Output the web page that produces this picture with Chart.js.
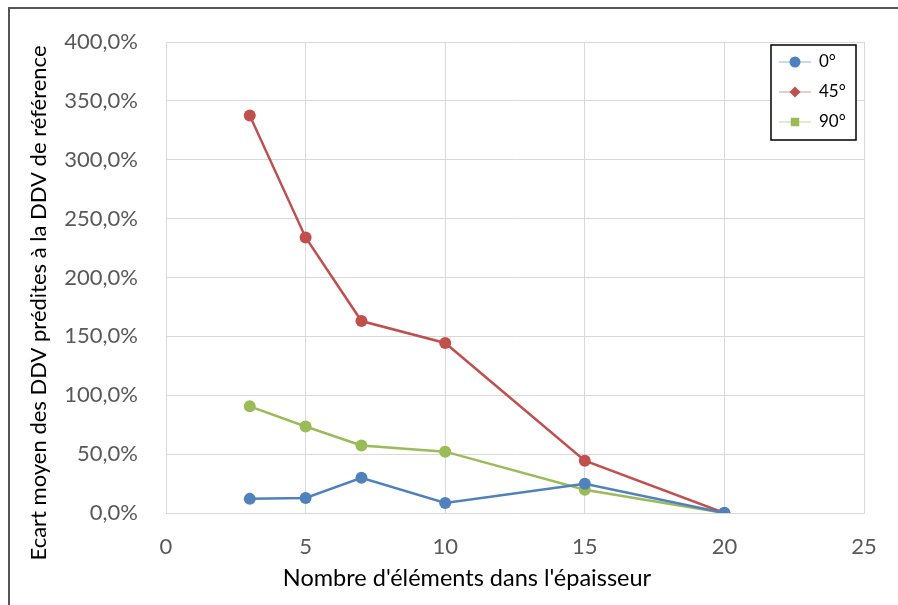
<!DOCTYPE html>
<html>
<head>
<meta charset="utf-8">
<script src="https://cdn.jsdelivr.net/npm/chart.js@4"></script>
<style>
  html, body { margin: 0; padding: 0; background: #fff; }
  #wrap { position: relative; width: 898px; height: 605px; }
  #frame { position: absolute; left: 8px; top: 7px; width: 900px; height: 610px;
           border-left: 2px solid #555; border-top: 2px solid #555; pointer-events: none; }
</style>
</head>
<body>
<div id="wrap">
  <canvas id="chart" width="898" height="605"></canvas>
  <div id="frame"></div>
</div>
<script>
// nombre d'éléments dans l'épaisseur
const elements = [3, 5, 7, 10, 15, 20];
// écart moyen (%)
const ecart0 = [12.0, 12.8, 29.9, 8.5, 24.8, 0];
const ecart45 = [337.6, 234.0, 163.0, 144.4, 44.4, 0];
const ecart90 = [90.6, 73.5, 57.3, 52.1, 19.7, 0];
const seriesNames = ["0°", "45°", "90°"];
const seriesColors = ["#4F81BD", "#C0504D", "#9BBB59"];
const legendMarkers = ["circle", "rectRot", "rect"];
const xTitle = "Nombre d'éléments dans l'épaisseur";
const yTitle = "Ecart moyen des DDV prédites à la DDV de référence";

const toPoints = (vals) => vals.map((v, i) => ({ x: elements[i], y: v }));

const font = "Lato";

// axis titles sit off-centre in the original, so draw them by hand
const axisTitles = {
  id: "axisTitles",
  afterDraw(chart) {
    const ctx = chart.ctx;
    ctx.save();
    ctx.fillStyle = "#000";
    ctx.textAlign = "center";
    ctx.textBaseline = "middle";
    ctx.font = "23.5px " + font;
    ctx.fillText(xTitle, 467, 578);
    ctx.translate(39, 303);
    ctx.rotate(-Math.PI / 2);
    ctx.font = "22px " + font;
    ctx.fillText(yTitle, 0, 0);
    ctx.restore();
  }
};

// legend box drawn like the spreadsheet one (line + marker)
const boxLegend = {
  id: "boxLegend",
  afterDraw(chart) {
    const ctx = chart.ctx;
    const x0 = 771, y0 = 45, w = 85, h = 95;
    ctx.save();
    ctx.fillStyle = "#fff";
    ctx.fillRect(x0, y0, w, h);
    ctx.strokeStyle = "#000";
    ctx.lineWidth = 1.5;
    ctx.strokeRect(x0, y0, w, h);
    chart.data.datasets.forEach((ds, i) => {
      const y = 62 + i * 30;
      ctx.strokeStyle = ds.borderColor;
      ctx.globalAlpha = 0.6;
      ctx.lineWidth = 1;
      ctx.beginPath();
      ctx.moveTo(779, y);
      ctx.lineTo(811, y);
      ctx.stroke();
      ctx.globalAlpha = 1;
      ctx.fillStyle = ds.borderColor;
      ctx.strokeStyle = ds.borderColor;
      Chart.helpers.drawPoint(ctx, {
        pointStyle: legendMarkers[i], radius: i === 2 ? 6 : 5.5, borderWidth: 0
      }, 795, y);
      ctx.fillStyle = "#000";
      ctx.font = "17px " + font;
      ctx.textBaseline = "middle";
      ctx.textAlign = "left";
      ctx.fillText(seriesNames[i], 819, y);
    });
    ctx.restore();
  }
};

const datasets = [ecart0, ecart45, ecart90].map((vals, i) => ({
  label: seriesNames[i],
  data: toPoints(vals),
  borderColor: seriesColors[i],
  backgroundColor: seriesColors[i],
  borderWidth: 2.5,
  pointRadius: 6,
  pointHoverRadius: 6,
  pointBorderWidth: 0,
  tension: 0
}));

new Chart(document.getElementById("chart"), {
  type: "scatter",
  data: { datasets: datasets },
  options: {
    responsive: false,
    animation: false,
    showLine: true,
    layout: { padding: { left: 0, top: 42, right: 34, bottom: 0 } },
    plugins: { legend: { display: false }, tooltip: { enabled: false } },
    scales: {
      x: {
        type: "linear",
        min: 0, max: 25,
        ticks: { stepSize: 5, color: "#595959", font: { family: font, size: 22 }, padding: 21 },
        grid: { color: "#d9d9d9", drawTicks: false },
        border: { color: "#d9d9d9" },
        afterFit(scale) { scale.height = 92; }
      },
      y: {
        min: 0, max: 400,
        ticks: {
          stepSize: 50, color: "#595959", font: { family: font, size: 22 }, padding: 28,
          callback: (v) => v.toFixed(1).replace(".", ",") + "%"
        },
        grid: { color: "#d9d9d9", drawTicks: false },
        border: { color: "#d9d9d9" },
        afterFit(scale) { scale.width = 166; }
      }
    }
  },
  plugins: [boxLegend, axisTitles]
});
</script>
</body>
</html>
